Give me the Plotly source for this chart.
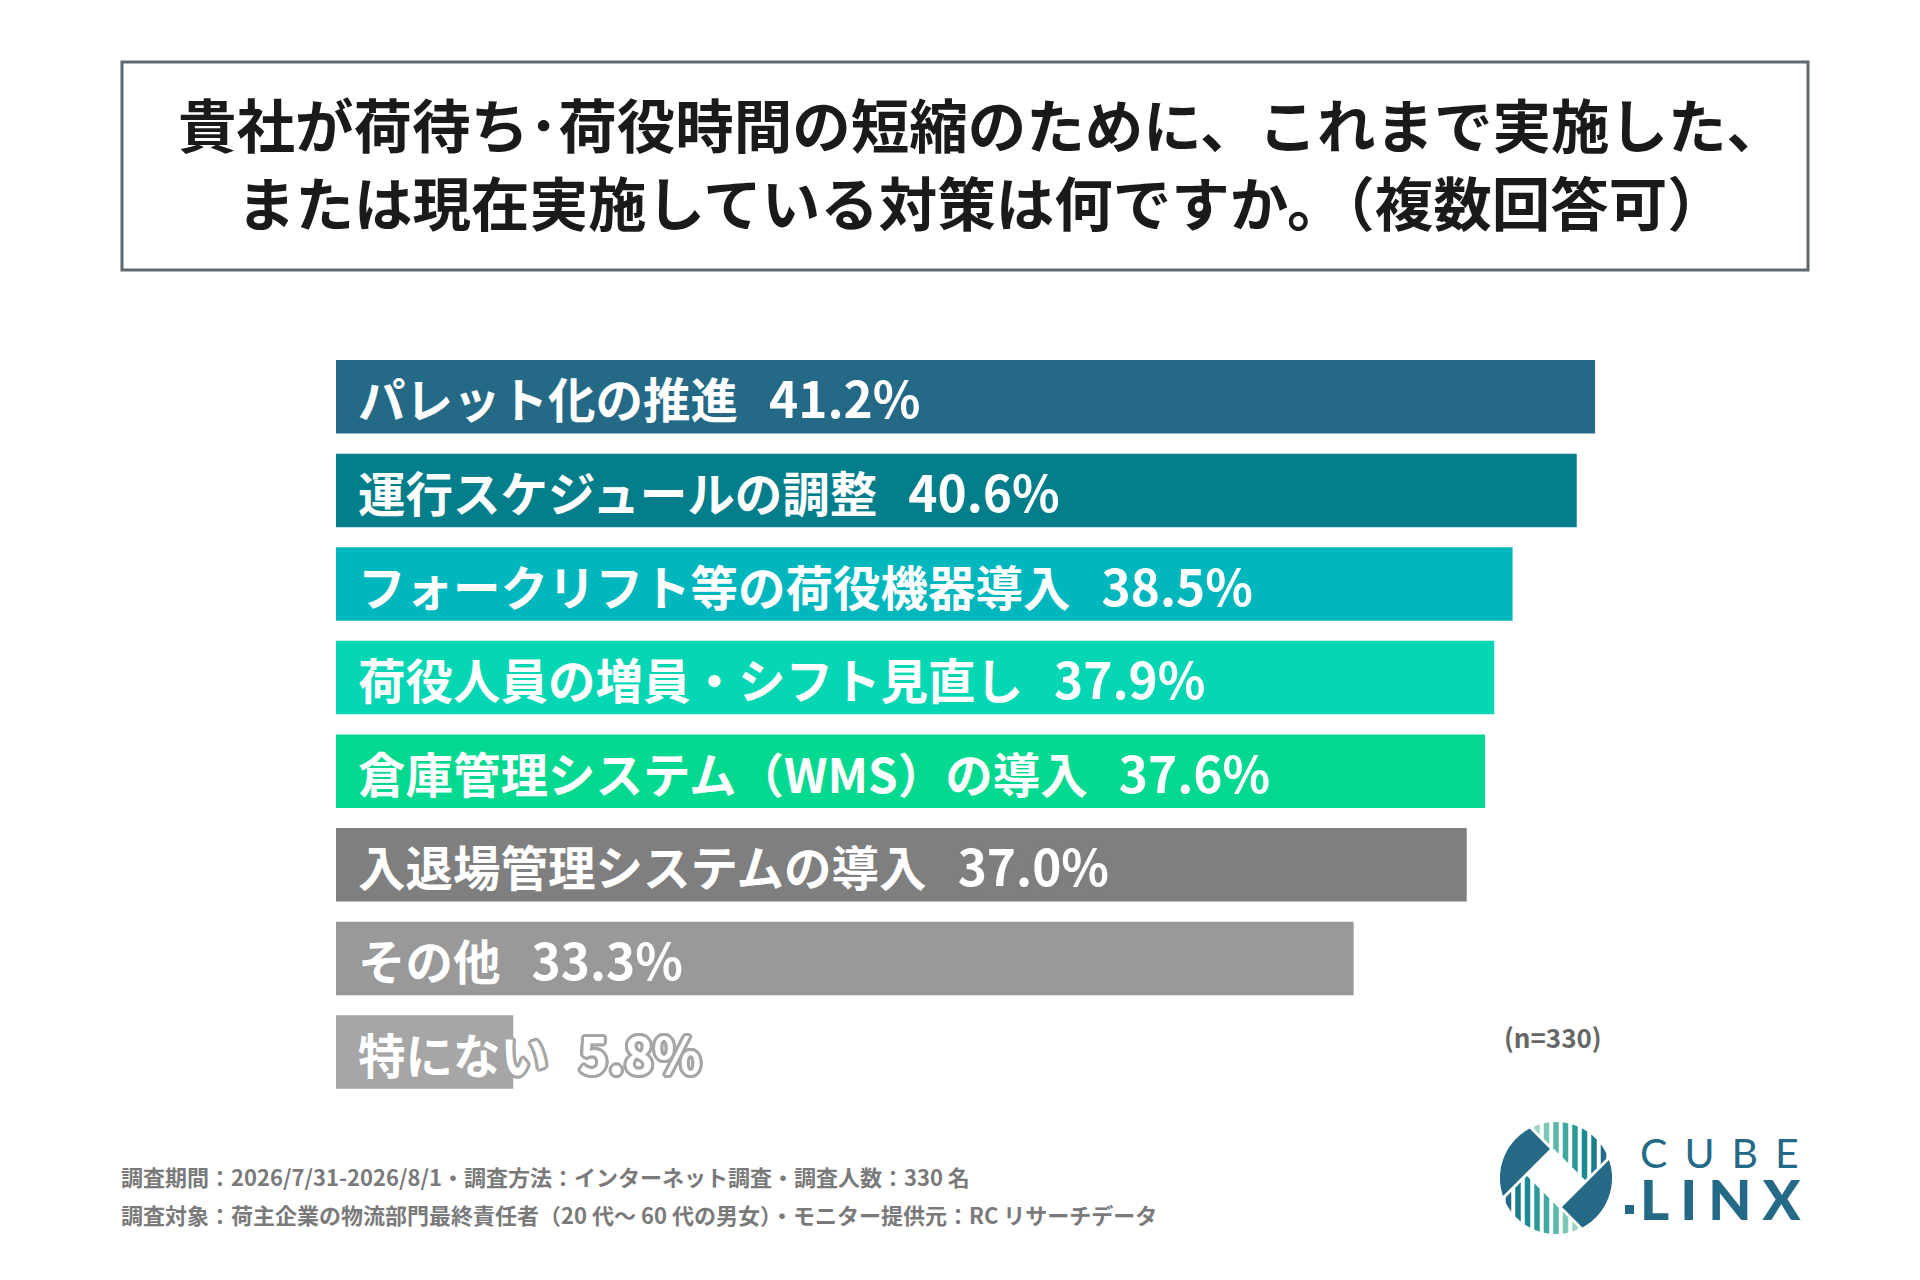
import math
import plotly.graph_objects as go

W, H = 1920, 1280
JP = "Noto Sans CJK JP"

# data
categories = [
    "パレット化の推進",
    "運行スケジュールの調整",
    "フォークリフト等の荷役機器導入",
    "荷役人員の増員・シフト見直し",
    "倉庫管理システム（WMS）の導入",
    "入退場管理システムの導入",
    "その他",
    "特にない",
]
values = [41.2, 40.6, 38.5, 37.9, 37.6, 37.0, 33.3, 5.8]
bar_colors = ["#246a87", "#047e8a", "#00b7bd", "#05d6b4", "#05d990",
              "#7f7f7f", "#999999", "#a6a6a6"]

title_lines = [
    "貴社が荷待ち･荷役時間の短縮のために、これまで実施した、",
    "または現在実施している対策は何ですか。（複数回答可）",
]
note_n = "(n=330)"
footer_lines = [
    "調査期間：2026/7/31-2026/8/1・調査方法：インターネット調査・調査人数：330 名",
    "調査対象：荷主企業の物流部門最終責任者（20 代～ 60 代の男女）・モニター提供元：RC リサーチデータ",
]


def px(x, y):
    return x / W, 1 - y / H


# plot area in pixels
x0_px, px_per_unit, x_max = 336, 30.56, 50
top_px, pitch = 350, 93.6
bottom_px = top_px + pitch * len(categories)

fig = go.Figure(go.Bar(
    x=values,
    y=categories,
    orientation="h",
    marker=dict(color=bar_colors, line=dict(width=0)),
    width=0.785,
    hoverinfo="skip",
))

fig.update_layout(
    width=W, height=H,
    margin=dict(l=0, r=0, t=0, b=0),
    paper_bgcolor="white",
    plot_bgcolor="white",
    showlegend=False,
    xaxis=dict(
        domain=[x0_px / W, (x0_px + x_max * px_per_unit) / W],
        range=[0, x_max], visible=False, fixedrange=True,
    ),
    yaxis=dict(
        domain=[1 - bottom_px / H, 1 - top_px / H],
        range=[len(categories) - 0.5, -0.5], visible=False, fixedrange=True,
    ),
)

annotations = []

# bar labels (white text, outlined in the bar colour)
offsets = [(3, 0), (-3, 0), (0, 3), (0, -3), (2, 2), (-2, -2), (2, -2), (-2, 2),
           (1, 3), (-1, 3), (1, -3), (-1, -3), (3, 1), (3, -1), (-3, 1), (-3, -1)]
for cat, val, col in zip(categories, values, bar_colors):
    outline = ", ".join(f"{col} {dx}px {dy}px 0" for dx, dy in offsets)
    annotations.append(dict(
        x=0, y=cat, xref="x", yref="y", xanchor="left", yanchor="middle",
        xshift=19.5, yshift=0,
        text=f"{cat}\u00a0\u00a0\u2009<span style='font-size:49.5px'>{val:.1f}%</span>",
        showarrow=False,
        font=dict(family=JP, size=47.5, color="white", weight="bold", shadow=outline),
    ))

# title
for i, line in enumerate(title_lines):
    x, y = px(981, 123 + 78 * i)
    annotations.append(dict(
        x=x, y=y, xref="paper", yref="paper", xanchor="center", yanchor="middle",
        text=line, showarrow=False,
        font=dict(family=JP, size=58.5, color="#1a1a1a", weight="bold"),
    ))

# n
x, y = px(1604, 1036)
annotations.append(dict(
    x=x, y=y, xref="paper", yref="paper", xanchor="right", yanchor="middle",
    text=note_n, showarrow=False,
    font=dict(family=JP, size=26, color="#666666", weight="bold"),
))

# footer
for i, line in enumerate(footer_lines):
    x, y = px(119, 1176 + 38 * i)
    annotations.append(dict(
        x=x, y=y, xref="paper", yref="paper", xanchor="left", yanchor="middle",
        text=line, showarrow=False,
        font=dict(family=JP, size=22, color="#7a7a7a", weight="bold"),
    ))

# logo text
x, y = px(1638, 1180)
annotations.append(dict(
    x=x, y=y, xref="paper", yref="paper", xanchor="left", yanchor="middle", align="left",
    text=("<span style='font-size:41px;font-weight:400;letter-spacing:17px'>CUBE</span><br>"
          "<span style='font-size:56px;font-weight:900;letter-spacing:11px'>LINX</span>"),
    showarrow=False,
    font=dict(family="Lato", size=40, color="#246a87"),
))

fig.update_layout(annotations=annotations)

shapes = []
# title box
bx0, by0 = px(122, 62)
bx1, by1 = px(1808, 270)
shapes.append(dict(type="rect", xref="paper", yref="paper", x0=bx0, y0=by1, x1=bx1, y1=by0,
                   line=dict(color="#5f686e", width=3), fillcolor="rgba(0,0,0,0)"))

# logo mark
cx, cy, R = 1556, 1178, 56


def clip(poly, a, b, c):
    # keep the part of poly where a*x + b*y <= c
    out = []
    n = len(poly)
    for i in range(n):
        p, q = poly[i], poly[(i + 1) % n]
        fp = a * p[0] + b * p[1] - c
        fq = a * q[0] + b * q[1] - c
        if fp <= 0:
            out.append(p)
        if fp * fq < 0:
            t = fp / (fp - fq)
            out.append((p[0] + t * (q[0] - p[0]), p[1] + t * (q[1] - p[1])))
    return out


def path_of(poly):
    pts = [px(cx + u, cy + v) for u, v in poly]
    return "M " + " L ".join(f"{a:.5f},{b:.5f}" for a, b in pts) + " Z"


circle = [(R * math.cos(t * math.pi / 90), R * math.sin(t * math.pi / 90)) for t in range(180)]
A, B, g = 33, 25, 2
ul = clip(clip(circle, 1, 1, -A - g), 1, -1, B - g)
lr = clip(clip(circle, -1, -1, -A - g), -1, 1, B - g)
for piece in (ul, lr):
    shapes.append(dict(type="path", xref="paper", yref="paper", path=path_of(piece),
                       fillcolor="#246a87", line=dict(width=0)))

upper = clip(clip(circle, -1, 1, -B - g), 1, 1, A - g)
lower = clip(clip(circle, 1, -1, -B - g), -1, -1, A - g)
stripe_cols = ["#9dd6c6", "#7cc7b5", "#5cb8a8", "#41a9a0", "#2a9a98", "#1b8a92", "#1a7b8d", "#246a87"]
sw = 5.5
mirrored = [(-u, v) for u, v in lower]
for k, col in enumerate(stripe_cols):
    xs = -19 + 9.5 * k
    for region, flip in ((upper, 1), (mirrored, -1)):
        s = clip(clip(region, 1, 0, xs + sw / 2), -1, 0, -(xs - sw / 2))
        s = [(flip * u, v) for u, v in s]
        if len(s) > 2:
            shapes.append(dict(type="path", xref="paper", yref="paper", path=path_of(s),
                               fillcolor=col, line=dict(width=0)))

# dot before LINX
dx0, dy0 = px(1625, 1205)
dx1, dy1 = px(1634, 1214)
shapes.append(dict(type="rect", xref="paper", yref="paper", x0=dx0, y0=dy1, x1=dx1, y1=dy0,
                   fillcolor="#246a87", line=dict(width=0)))

fig.update_layout(shapes=shapes)

fig.write_html("out.html", config={"displayModeBar": False},
               post_script="document.body.style.margin='0';")
